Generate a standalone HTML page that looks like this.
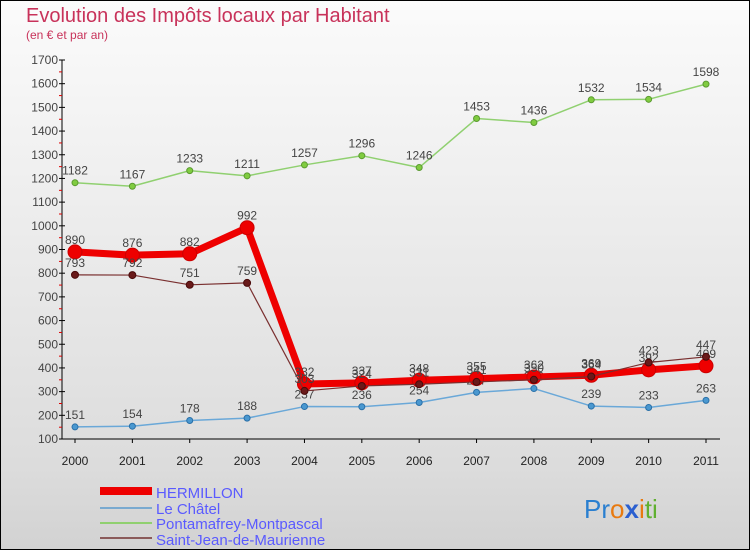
<!DOCTYPE html>
<html><head><meta charset="utf-8"><style>
html,body{margin:0;padding:0}
body{width:750px;height:550px;overflow:hidden;font-family:"Liberation Sans",sans-serif}
svg{display:block}
</style></head><body>
<svg id="chart" width="750" height="550" xmlns="http://www.w3.org/2000/svg">
<defs>
<linearGradient id="bg" x1="0" y1="0" x2="0" y2="1">
<stop offset="0" stop-color="#fbfbfb"/><stop offset="0.85" stop-color="#dcdcdc"/><stop offset="1" stop-color="#d2d2d2"/>
</linearGradient>
</defs>
<rect x="0.5" y="0.5" width="749" height="549" fill="url(#bg)" stroke="#000"/>
<text x="26" y="22" font-size="20" fill="#c8325a">Evolution des Impôts locaux par Habitant</text>
<text x="26" y="39" font-size="12" fill="#c8325a">(en € et par an)</text>
<g id="axes"></g>
<g id="series"></g>
<g id="legend">
<rect x="100" y="487" width="52" height="8" fill="#ee0000"/>
<text x="156" y="498" font-size="15" fill="#5a5aff">HERMILLON</text>
<line x1="100" y1="508" x2="152" y2="508" stroke="#7aaad0" stroke-width="2"/>
<text x="156" y="514" font-size="15" fill="#5a5aff">Le Châtel</text>
<line x1="100" y1="523" x2="152" y2="523" stroke="#90d070" stroke-width="2"/>
<text x="156" y="529" font-size="15" fill="#5a5aff">Pontamafrey-Montpascal</text>
<line x1="100" y1="538" x2="152" y2="538" stroke="#8a5a5a" stroke-width="2"/>
<text x="156" y="545" font-size="15" fill="#5a5aff">Saint-Jean-de-Maurienne</text>
</g>
<text x="584" y="518" font-size="26"><tspan fill="#2a7fd0">Pr</tspan><tspan fill="#e87a10">o</tspan><tspan fill="#2a5fd0" font-weight="bold">x</tspan><tspan fill="#e87a10">i</tspan><tspan fill="#60b030">ti</tspan></text>
</svg>
<script>
const years = [2000,2001,2002,2003,2004,2005,2006,2007,2008,2009,2010,2011];
const hermillon = [890,876,882,992,332,337,348,355,362,369,392,409];
const leChatel = [151,154,178,188,237,236,254,297,313,239,233,263];
const pontamafrey = [1182,1167,1233,1211,1257,1296,1246,1453,1436,1532,1534,1598];
const saintJean = [793,792,751,759,303,324,331,341,350,364,423,447];
const yTicks = [100,200,300,400,500,600,700,800,900,1000,1100,1200,1300,1400,1500,1600,1700];

const NS="http://www.w3.org/2000/svg";
const x0=75,x1=706,yTop=60,yBot=439,vMin=100,vMax=1700;
function xs(i){return x0+(x1-x0)*i/(years.length-1);}
function ys(v){return yBot-(v-vMin)/(vMax-vMin)*(yBot-yTop);}
function mk(tag,attrs,parent){const e=document.createElementNS(NS,tag);for(const k in attrs)e.setAttribute(k,attrs[k]);parent.appendChild(e);return e;}
const axes=document.getElementById('axes');
const ax=mk('line',{x1:62,y1:yTop,x2:62,y2:yBot,stroke:'#000'},axes);


const xa=mk('line',{x1:62,y1:yBot,x2:720,y2:yBot,stroke:'#000'},axes);


yTicks.forEach(v=>{
  const y=ys(v);
  mk('line',{x1:59,y1:y,x2:65,y2:y,stroke:'#000'},axes);
  if(v<1700) mk('line',{x1:59,y1:y-11.8,x2:62,y2:y-11.8,stroke:'#d00'},axes);
  const t=mk('text',{x:58,y:y+4,'font-size':12,'text-anchor':'end',fill:'#444'},axes);
  t.textContent=v;
  
  
});
years.forEach((yr,i)=>{
  const x=xs(i);
  mk('line',{x1:x,y1:yBot,x2:x,y2:yBot+4,stroke:'#000'},axes);
  const t=mk('text',{x:x,y:yBot+26,'font-size':12,'text-anchor':'middle',fill:'#222'},axes);
  t.textContent=yr;
  
  
});
const sg=document.getElementById('series');
function draw(vals,name,color,w,r,dot,dotStroke){
  const g=mk('g',{},sg);
  
  
  mk('polyline',{points:vals.map((v,i)=>xs(i)+','+ys(v)).join(' '),fill:'none',stroke:color,'stroke-width':w,'stroke-linejoin':'round'},g);
  vals.forEach((v,i)=>{
    const c=mk('circle',{cx:xs(i),cy:ys(v),r:r,fill:dot,stroke:dotStroke,'stroke-width':1},g);
    
    
    const t=mk('text',{x:xs(i),y:ys(v)-8,'font-size':12,'text-anchor':'middle',fill:'#444'},g);
    t.textContent=v;
    
    
  });
}
draw(pontamafrey,'pontamafrey','#90d070',1.5,3,'#80cc40','#5a9a30');
draw(leChatel,'le-chatel','#6aa8d8',1.5,3,'#4a98d0','#2a70a8');
draw(hermillon,'hermillon','#ee0000',7,7,'#ee0000','#cc0000');
draw(saintJean,'saint-jean','#7a3030',1.2,3.5,'#6a1a1a','#4a0a0a');
</script>
</body></html>
